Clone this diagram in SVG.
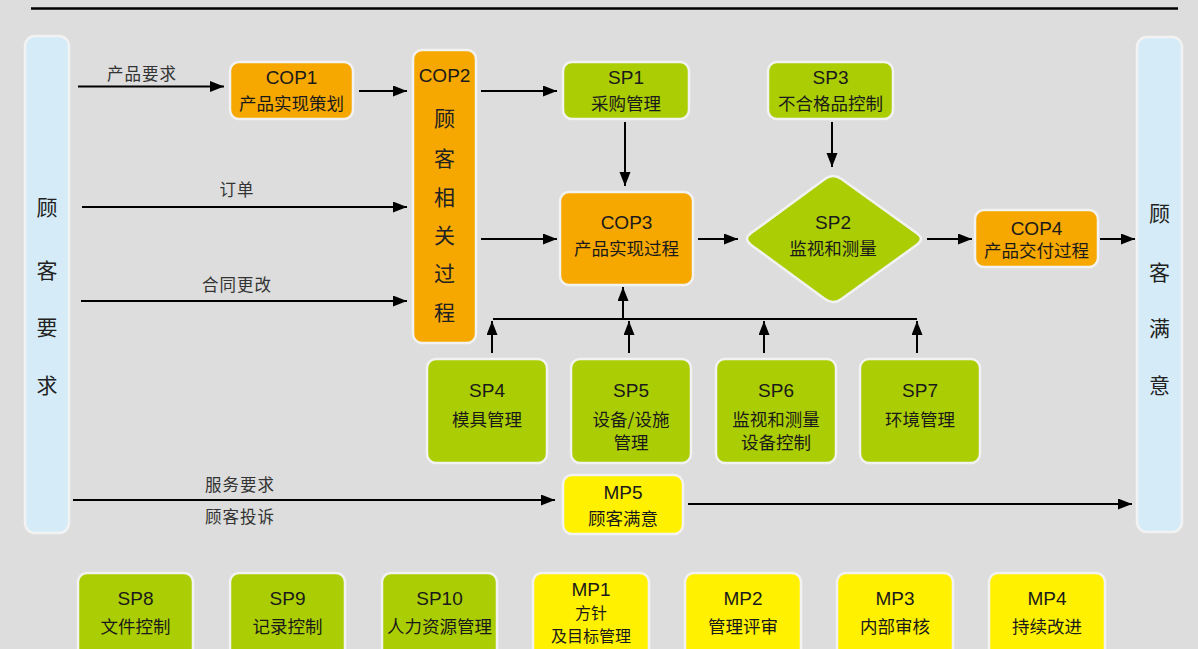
<svg xmlns="http://www.w3.org/2000/svg" width="1198" height="649" viewBox="0 0 1198 649">
<defs>
<marker id="ah" markerUnits="userSpaceOnUse" markerWidth="15" markerHeight="12" refX="14" refY="5.5" orient="auto">
<path d="M0,0 L14,5.5 L0,11 Z" fill="#000"/>
</marker>
<style>
.bg{fill:#dcdddc}
.box{stroke:#f2f2f2;stroke-width:2.5}
.or{fill:#f6a800}
.gr{fill:#abcd03}
.ye{fill:#fff100}
.lb{fill:#d5ecf8}
.t{font-family:"Liberation Sans","Noto Sans CJK SC",sans-serif;font-size:19px;fill:#1a1a1a;text-anchor:middle}
.c{font-family:"Noto Sans CJK SC","Liberation Sans",sans-serif;font-size:17.5px;fill:#1a1a1a;text-anchor:middle}
.s{font-family:"Noto Sans CJK SC","Liberation Sans",sans-serif;font-size:16px;fill:#1a1a1a;text-anchor:middle}
.v{font-family:"Noto Sans CJK SC",sans-serif;font-size:21px;fill:#222;text-anchor:middle}
.l{font-family:"Noto Sans CJK SC",sans-serif;font-size:16.5px;fill:#333;text-anchor:middle;letter-spacing:1px}
.ln{stroke:#000;stroke-width:2;fill:none}
.ar{stroke:#000;stroke-width:2;fill:none;marker-end:url(#ah)}
</style>
</defs>
<rect class="bg" x="0" y="0" width="1198" height="649"/>
<line x1="31" y1="8.5" x2="1178" y2="8.5" stroke="#000" stroke-width="2.5"/>

<g id="customer-req">
<rect class="box lb" x="25" y="36" width="44" height="497" rx="10"/>
<text class="v" x="47" y="215">顾</text>
<text class="v" x="47" y="278">客</text>
<text class="v" x="47" y="335">要</text>
<text class="v" x="47" y="393">求</text>
</g>
<g id="customer-sat">
<rect class="box lb" x="1137" y="37" width="45" height="495" rx="10"/>
<text class="v" x="1159.5" y="221">顾</text>
<text class="v" x="1159.5" y="280">客</text>
<text class="v" x="1159.5" y="336">满</text>
<text class="v" x="1159.5" y="393">意</text>
</g>

<g id="COP1">
<rect class="box or" x="230" y="62" width="123" height="57" rx="9"/>
<text class="t" x="291.5" y="84">COP1</text>
<text class="c" x="291.5" y="110">产品实现策划</text>
</g>
<g id="COP2">
<rect class="box or" x="413" y="50" width="63" height="293" rx="9"/>
<text class="t" x="444.5" y="82">COP2</text>
<text class="v" x="444.5" y="126">顾</text>
<text class="v" x="444.5" y="166">客</text>
<text class="v" x="444.5" y="205">相</text>
<text class="v" x="444.5" y="243">关</text>
<text class="v" x="444.5" y="281">过</text>
<text class="v" x="444.5" y="320">程</text>
</g>
<g id="SP1">
<rect class="box gr" x="563" y="62" width="126" height="57" rx="9"/>
<text class="t" x="626" y="84">SP1</text>
<text class="c" x="626" y="110">采购管理</text>
</g>
<g id="SP3">
<rect class="box gr" x="768" y="62" width="125" height="57" rx="9"/>
<text class="t" x="830.5" y="84">SP3</text>
<text class="c" x="830.5" y="110">不合格品控制</text>
</g>
<g id="COP3">
<rect class="box or" x="560" y="192" width="133" height="93" rx="9"/>
<text class="t" x="626.5" y="229">COP3</text>
<text class="c" x="626.5" y="255">产品实现过程</text>
</g>
<g id="SP2">
<path class="box gr" d="M751.1,233.1 L824.9,178.9 Q833,173 841.1,178.8 L916.9,233.2 Q925,239 916.9,244.8 L841.1,299.2 Q833,305 824.9,299.1 L751.1,244.9 Q743,239 751.1,233.1 Z"/>
<text class="t" x="833" y="229">SP2</text>
<text class="c" x="833" y="255">监视和测量</text>
</g>
<g id="COP4">
<rect class="box or" x="975" y="210" width="123" height="57" rx="9"/>
<text class="t" x="1036.5" y="235">COP4</text>
<text class="c" x="1036.5" y="257">产品交付过程</text>
</g>
<g id="SP4">
<rect class="box gr" x="427" y="359" width="120" height="104" rx="9"/>
<text class="t" x="487" y="397">SP4</text>
<text class="c" x="487" y="426">模具管理</text>
</g>
<g id="SP5">
<rect class="box gr" x="571" y="359" width="120" height="104" rx="9"/>
<text class="t" x="631" y="397">SP5</text>
<text class="c" x="631" y="426">设备/设施</text>
<text class="c" x="631" y="449">管理</text>
</g>
<g id="SP6">
<rect class="box gr" x="716" y="359" width="120" height="104" rx="9"/>
<text class="t" x="776" y="397">SP6</text>
<text class="c" x="776" y="426">监视和测量</text>
<text class="c" x="776" y="449">设备控制</text>
</g>
<g id="SP7">
<rect class="box gr" x="860" y="359" width="120" height="104" rx="9"/>
<text class="t" x="920" y="397">SP7</text>
<text class="c" x="920" y="426">环境管理</text>
</g>
<g id="MP5">
<rect class="box ye" x="563" y="475" width="120" height="59" rx="9"/>
<text class="t" x="623" y="499">MP5</text>
<text class="c" x="623" y="525">顾客满意</text>
</g>

<g id="SP8">
<rect class="box gr" x="78" y="573" width="115" height="95" rx="9"/>
<text class="t" x="135.5" y="605">SP8</text>
<text class="c" x="135.5" y="633">文件控制</text>
</g>
<g id="SP9">
<rect class="box gr" x="230" y="573" width="115" height="95" rx="9"/>
<text class="t" x="287.5" y="605">SP9</text>
<text class="c" x="287.5" y="633">记录控制</text>
</g>
<g id="SP10">
<rect class="box gr" x="382" y="573" width="115" height="95" rx="9"/>
<text class="t" x="439.5" y="605">SP10</text>
<text class="c" x="439.5" y="633">人力资源管理</text>
</g>
<g id="MP1">
<rect class="box ye" x="533" y="573" width="116" height="95" rx="9"/>
<text class="t" x="591" y="596">MP1</text>
<text class="s" x="591" y="619">方针</text>
<text class="s" x="591" y="642">及目标管理</text>
</g>
<g id="MP2">
<rect class="box ye" x="685" y="573" width="116" height="95" rx="9"/>
<text class="t" x="743" y="605">MP2</text>
<text class="c" x="743" y="633">管理评审</text>
</g>
<g id="MP3">
<rect class="box ye" x="837" y="573" width="116" height="95" rx="9"/>
<text class="t" x="895" y="605">MP3</text>
<text class="c" x="895" y="633">内部审核</text>
</g>
<g id="MP4">
<rect class="box ye" x="989" y="573" width="116" height="95" rx="9"/>
<text class="t" x="1047" y="605">MP4</text>
<text class="c" x="1047" y="633">持续改进</text>
</g>

<g id="connectors">
<line class="ar" x1="78" y1="86.5" x2="224" y2="86.5"/>
<line class="ar" x1="359" y1="91" x2="407" y2="91"/>
<line class="ar" x1="82" y1="207" x2="407" y2="207"/>
<line class="ar" x1="81" y1="301" x2="407" y2="301"/>
<line class="ar" x1="481" y1="91" x2="557" y2="91"/>
<line class="ar" x1="481" y1="239" x2="557" y2="239"/>
<line class="ar" x1="625" y1="122" x2="625" y2="186"/>
<line class="ar" x1="832" y1="122" x2="832" y2="167"/>
<line class="ar" x1="698" y1="239" x2="738" y2="239"/>
<line class="ar" x1="927" y1="239" x2="972" y2="239"/>
<line class="ar" x1="1100" y1="239" x2="1135" y2="239"/>
<line class="ln" x1="493" y1="319" x2="917" y2="319"/>
<line class="ar" x1="623" y1="319" x2="623" y2="287"/>
<line class="ar" x1="492" y1="353" x2="492" y2="321"/>
<line class="ar" x1="629" y1="353" x2="629" y2="321"/>
<line class="ar" x1="764" y1="353" x2="764" y2="321"/>
<line class="ar" x1="917" y1="353" x2="917" y2="321"/>
<line class="ar" x1="73" y1="500" x2="555" y2="500"/>
<line class="ar" x1="688" y1="504" x2="1132" y2="504"/>
<text class="l" x="142" y="80">产品要求</text>
<text class="l" x="237" y="196">订单</text>
<text class="l" x="237" y="291">合同更改</text>
<text class="l" x="240" y="491">服务要求</text>
<text class="l" x="240" y="523">顾客投诉</text>
</g>
</svg>
